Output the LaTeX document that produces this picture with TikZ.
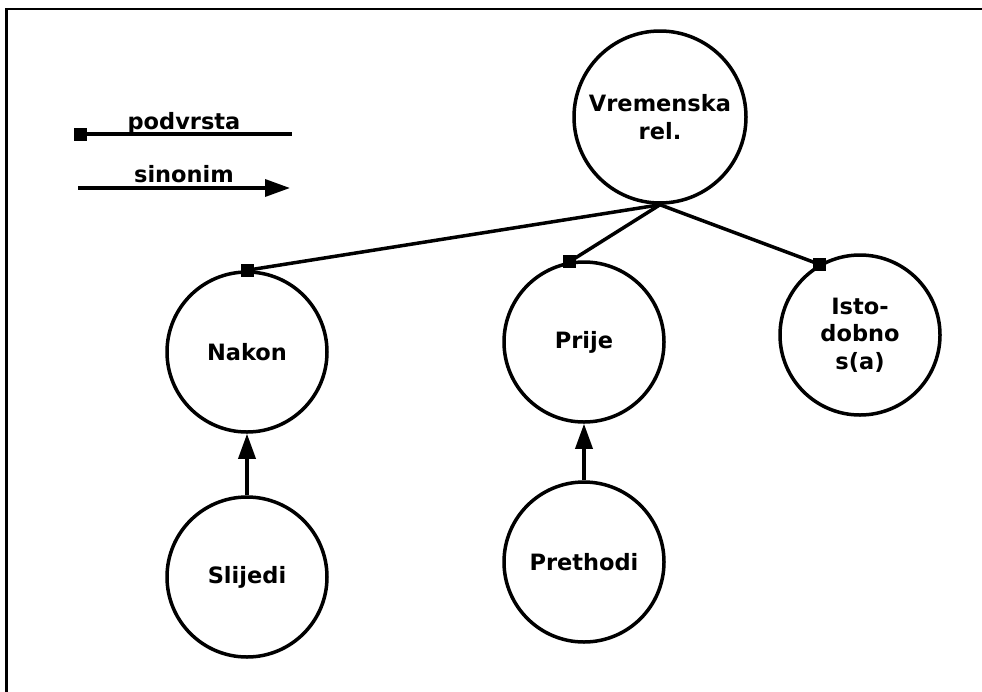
\documentclass[tikz,border=0pt]{standalone}
\usepackage{fontspec}
\setmainfont{DejaVu Sans}
\usetikzlibrary{arrows.meta}
\begin{document}
\begin{tikzpicture}[x=1pt,y=-1pt,
  concept/.style={circle,draw,line width=3.5pt,minimum size=160pt,inner sep=0pt,align=center,
    font=\fontsize{22.5}{27.5}\selectfont\bfseries},
  conn/.style={line width=3.5pt},
  sqm/.style={fill=black,draw=none,minimum size=13pt,inner sep=0pt,outer sep=0pt},
  syn/.style={line width=3.5pt,-{Triangle[length=25pt,width=17pt]}},
  lbl/.style={font=\fontsize{22.5}{27.5}\selectfont\bfseries,inner sep=0pt,anchor=base}]
\useasboundingbox (0,0) rectangle (982,691);
\draw[line width=2.5pt] (6.5,720) -- (6.5,9) -- (1000,9);
% legend
\coordinate (p1) at (80,134);
\coordinate (p2) at (292,134);
\draw[conn] (p1) -- (p2);
\node[sqm] (pm) at (p1) {};
\node[lbl] (pl) at (184,129) {podvrsta};
\coordinate (s1) at (78,188);
\coordinate (s2) at (290,188);
\draw[syn] (s1) -- (s2);
\node[lbl] (sl) at (184,182) {sinonim};
% concepts
\node[concept,minimum size=172pt] (vrem) at (660,117) {Vremenska\\rel.};
\node[concept] (nakon) at (247,352) {Nakon};
\node[concept] (prije) at (584,342) {Prije};
\node[concept] (isto) at (860,335) {Isto-\\dobno\\s(a)};
\node[concept] (slijedi) at (247,577) {Slijedi};
\node[concept] (prethodi) at (584,562) {Prethodi};
% subtype links
\draw[conn] (vrem.south) -- (nakon.north);
\draw[conn] (vrem.south) -- (prije.100);
\draw[conn] (vrem.south) -- (isto.120);
\node[sqm] at (nakon.north) {};
\node[sqm] at (prije.100) {};
\node[sqm] at (isto.120) {};
% synonym links
\draw[syn] (slijedi.north) -- (nakon.south);
\draw[syn] (prethodi.north) -- (prije.south);
\end{tikzpicture}
\end{document}
